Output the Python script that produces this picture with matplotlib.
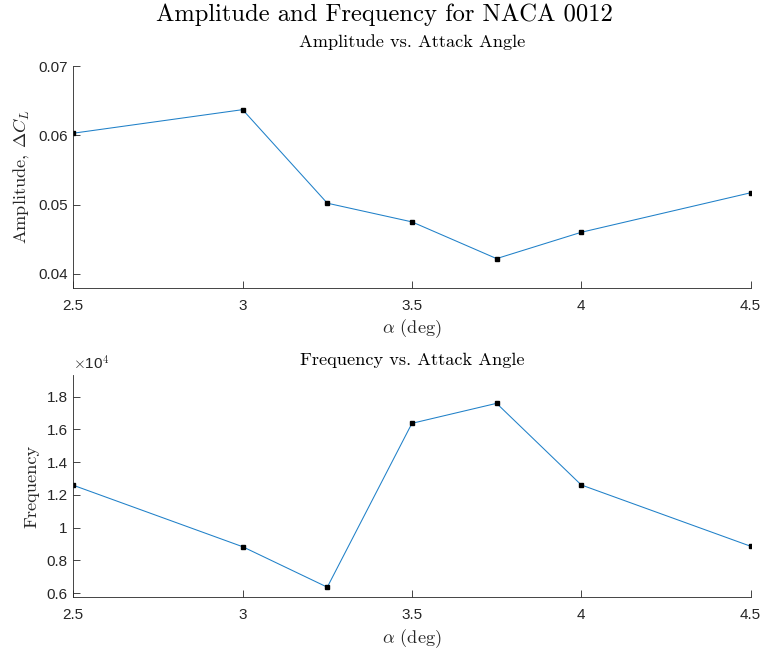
import matplotlib
matplotlib.use('Agg')
import matplotlib.pyplot as plt
from matplotlib.ticker import FuncFormatter

# Data
alpha = [2.5, 3.0, 3.25, 3.5, 3.75, 4.0, 4.5]
amplitude = [0.0603, 0.0637, 0.0502, 0.0475, 0.0422, 0.0460, 0.0517]
frequency = [12590, 8840, 6370, 16370, 17590, 12610, 8870]

amp_ticks = [0.04, 0.05, 0.06, 0.07]
freq_ticks = [6000, 8000, 10000, 12000, 14000, 16000, 18000]
alpha_ticks = [2.5, 3, 3.5, 4, 4.5]

plt.rcParams['mathtext.fontset'] = 'cm'
plt.rcParams['font.family'] = ['Liberation Sans', 'DejaVu Sans']

line_color = '#1f80c8'
axis_color = '#262626'
serif = 'cmr10'
label_size = 13.2

fig = plt.figure(figsize=(7.62, 6.49), dpi=100)
ax1 = fig.add_axes([0.0962, 0.5567, 0.8888, 0.3416])
ax2 = fig.add_axes([0.0962, 0.0801, 0.8888, 0.3421])


def style(ax):
    for side in ['top', 'right']:
        ax.spines[side].set_visible(False)
    for side in ['left', 'bottom']:
        ax.spines[side].set_color(axis_color)
        ax.spines[side].set_linewidth(0.6)
    ax.tick_params(direction='in', length=5, width=0.6, color=axis_color,
                   labelcolor=axis_color, labelsize=11)
    ax.tick_params(axis='x', pad=8)
    ax.tick_params(axis='y', pad=4)
    ax.set_xlim(2.5, 4.5)
    ax.set_xticks(alpha_ticks)
    ax.xaxis.set_major_formatter(FuncFormatter(lambda v, _: f'{v:g}'))


# ===== Amplitude =====
ax1.plot(alpha, amplitude, color=line_color, linewidth=0.75,
         marker='s', markersize=2.4, markerfacecolor='black', markeredgecolor='black')
style(ax1)
ax1.set_ylim(0.038, 0.07)
ax1.set_yticks(amp_ticks)
ax1.yaxis.set_major_formatter(FuncFormatter(lambda v, _: f'{v:g}'))
ax1.set_title('Amplitude vs. Attack Angle', fontfamily=serif, fontsize=label_size,
              color='black', pad=14)
ax1.set_xlabel(r'$\alpha$ (deg)', fontfamily=serif, fontsize=label_size, color=axis_color, labelpad=3.5)
ax1.set_ylabel(r'Amplitude, $\Delta C_L$', fontfamily=serif, fontsize=label_size,
               color=axis_color, labelpad=5)

# ===== Frequency =====
ax2.plot(alpha, frequency, color=line_color, linewidth=0.75,
         marker='s', markersize=2.4, markerfacecolor='black', markeredgecolor='black')
style(ax2)
ax2.set_ylim(5770, 19320)
ax2.set_yticks(freq_ticks)
ax2.yaxis.set_major_formatter(FuncFormatter(lambda v, _: f'{v / 1e4:g}'))
ax2.text(0, 1.01, r'$\times$10$^4$', transform=ax2.transAxes, fontsize=11,
         color=axis_color, ha='left', va='bottom')
ax2.set_title('Frequency vs. Attack Angle', fontfamily=serif, fontsize=label_size,
              color='black', pad=7)
ax2.set_xlabel(r'$\alpha$ (deg)', fontfamily=serif, fontsize=label_size, color=axis_color, labelpad=3.5)
ax2.set_ylabel('Frequency', fontfamily=serif, fontsize=label_size, color=axis_color, labelpad=5)

fig.suptitle('Amplitude and Frequency for NACA 0012', fontfamily=serif,
             fontsize=17.7, x=0.505, y=0.995, va='top')

fig.savefig('out.png', dpi=100, facecolor='white')
